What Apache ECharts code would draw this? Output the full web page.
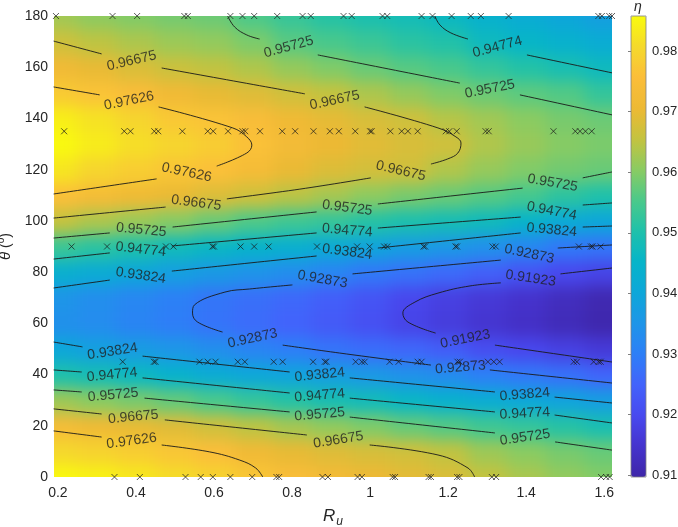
<!DOCTYPE html>
<html>
<head>
<meta charset="utf-8">
<script src="https://cdn.jsdelivr.net/npm/echarts@6/dist/echarts.min.js"></script>
<style>
  body { margin: 0; background: #fff; }
  #wrap { position: relative; width: 678px; height: 527px; }
  #clip { position: absolute; left: 54px; top: 16px; width: 558px; height: 461px; overflow: hidden; }
  #bg { position: absolute; left: -94px; top: -56px; width: 758px; height: 607px; filter: blur(8px); }
  #fg { position: absolute; left: 0; top: 0; width: 678px; height: 527px; }
</style>
</head>
<body>
<div id="wrap">
  <div id="clip"><div id="bg"></div></div>
  <div id="fg"></div>
</div>
<script>
// R_u 列 / θ 行
var rVals = [0.2, 0.3, 0.4, 0.5, 0.6, 0.7, 0.8, 0.9, 1.0, 1.1, 1.2, 1.3, 1.4, 1.5, 1.6];
var thetaVals = [0, 10, 20, 30, 40, 50, 60, 70, 80, 90, 100, 110, 120, 130, 140, 150, 160, 170, 180];
// η，每行一个 θ
var etaRows = [
  [0.9855, 0.9845, 0.9830, 0.9812, 0.9795, 0.9772, 0.9748, 0.9728, 0.9710, 0.9695, 0.9682, 0.9655, 0.9632, 0.9612, 0.9598],
  [0.9805, 0.9795, 0.9785, 0.9772, 0.9755, 0.9719, 0.9700, 0.9688, 0.9678, 0.9670, 0.9652, 0.9622, 0.9605, 0.9590, 0.9577],
  [0.9736, 0.9717, 0.9701, 0.9689, 0.9670, 0.9649, 0.9628, 0.9611, 0.9595, 0.9575, 0.9560, 0.9540, 0.9527, 0.9510, 0.9490],
  [0.9622, 0.9605, 0.9591, 0.9574, 0.9551, 0.9527, 0.9509, 0.9489, 0.9478, 0.9459, 0.9440, 0.9424, 0.9406, 0.9392, 0.9375],
  [0.9500, 0.9485, 0.9466, 0.9443, 0.9420, 0.9404, 0.9393, 0.9378, 0.9361, 0.9345, 0.9329, 0.9305, 0.9289, 0.9275, 0.9253],
  [0.9403, 0.9382, 0.9370, 0.9355, 0.9337, 0.9315, 0.9300, 0.9280, 0.9268, 0.9256, 0.9237, 0.9208, 0.9195, 0.9180, 0.9165],
  [0.9340, 0.9332, 0.9312, 0.9298, 0.9280, 0.9265, 0.9250, 0.9232, 0.9212, 0.9188, 0.9170, 0.9153, 0.9138, 0.9120, 0.9105],
  [0.9350, 0.9335, 0.9318, 0.9303, 0.9282, 0.9272, 0.9258, 0.9240, 0.9220, 0.9195, 0.9178, 0.9162, 0.9146, 0.9128, 0.9110],
  [0.9433, 0.9417, 0.9400, 0.9378, 0.9363, 0.9348, 0.9334, 0.9313, 0.9290, 0.9276, 0.9262, 0.9243, 0.9221, 0.9197, 0.9187],
  [0.9534, 0.9515, 0.9499, 0.9475, 0.9460, 0.9445, 0.9432, 0.9414, 0.9394, 0.9372, 0.9358, 0.9342, 0.9319, 0.9290, 0.9282],
  [0.9655, 0.9635, 0.9618, 0.9601, 0.9578, 0.9555, 0.9538, 0.9527, 0.9509, 0.9496, 0.9485, 0.9473, 0.9448, 0.9414, 0.9403],
  [0.9758, 0.9734, 0.9718, 0.9702, 0.9684, 0.9667, 0.9646, 0.9628, 0.9607, 0.9590, 0.9578, 0.9562, 0.9545, 0.9518, 0.9501],
  [0.9825, 0.9800, 0.9785, 0.9770, 0.9760, 0.9735, 0.9702, 0.9685, 0.9673, 0.9668, 0.9638, 0.9615, 0.9597, 0.9585, 0.9578],
  [0.9855, 0.9835, 0.9815, 0.9800, 0.9785, 0.9762, 0.9728, 0.9707, 0.9692, 0.9680, 0.9670, 0.9638, 0.9617, 0.9602, 0.9593],
  [0.9840, 0.9820, 0.9800, 0.9775, 0.9765, 0.9745, 0.9718, 0.9697, 0.9680, 0.9668, 0.9644, 0.9625, 0.9605, 0.9590, 0.9580],
  [0.9778, 0.9765, 0.9750, 0.9720, 0.9700, 0.9688, 0.9670, 0.9655, 0.9635, 0.9614, 0.9595, 0.9580, 0.9567, 0.9558, 0.9527],
  [0.9720, 0.9701, 0.9682, 0.9663, 0.9652, 0.9637, 0.9614, 0.9596, 0.9578, 0.9562, 0.9550, 0.9527, 0.9508, 0.9490, 0.9470],
  [0.9667, 0.9650, 0.9635, 0.9620, 0.9612, 0.9593, 0.9565, 0.9550, 0.9535, 0.9515, 0.9505, 0.9470, 0.9455, 0.9440, 0.9420],
  [0.9625, 0.9608, 0.9598, 0.9588, 0.9580, 0.9555, 0.9530, 0.9510, 0.9495, 0.9482, 0.9465, 0.9440, 0.9420, 0.9400, 0.9380]
];

var etaMin = 0.90973, etaMax = 0.98577;
var xTicks = [0.2, 0.4, 0.6, 0.8, 1, 1.2, 1.4, 1.6];
var cbTicks = [0.91, 0.92, 0.93, 0.94, 0.95, 0.96, 0.97, 0.98];

// 等值线 [R, θ]，相邻两段之间是标注的位置
var c7a = [[0.189, 152.3], [0.307, 149.2]];
var c7b = [[0.458, 144.5], [0.648, 136.3], [0.684, 132.8], [0.697, 129.6], [0.684, 126.5], [0.607, 121.4]];
var c7c = [[0.453, 116.4], [0.189, 110.5]];
var c7d = [[0.189, 18.0], [0.312, 15.6]];
var c7e = [[0.466, 12.5], [0.589, 9.8], [0.666, 6.6], [0.707, 3.5], [0.725, 0]];

var c6a = [[0.189, 170.2], [0.312, 165.2]];
var c6b = [[0.466, 159.7], [0.833, 149.6]];
var c6c = [[0.986, 144.5], [1.174, 136.3], [1.220, 132.8], [1.233, 130.4], [1.225, 126.5], [1.199, 124.2], [1.156, 122.2]];
var c6d = [[1.002, 116.8], [0.820, 112.4], [0.633, 108.6]];
var c6e = [[0.476, 105.4], [0.189, 101.1]];
var c6f = [[0.189, 26.6], [0.312, 24.6]];
var c6g = [[0.474, 22.3], [0.838, 16.4]];
var c6h = [[0.999, 12.5], [1.174, 8.6], [1.251, 3.5], [1.268, 0]];

var c5a = [[0.635, 180], [0.653, 175.7], [0.684, 172.6], [0.717, 171.0]];
var c5b = [[0.866, 164.8], [1.230, 153.8]];
var c5c = [[1.384, 149.2], [1.620, 141.4]];
var c5d = [[0.189, 93.3], [0.333, 95.3]];
var c5e = [[0.494, 97.6], [0.863, 103.5]];
var c5f = [[1.020, 106.6], [1.391, 112.8]];
var c5g = [[1.545, 116.8], [1.620, 119.1]];
var c5h = [[0.189, 34.0], [0.261, 33.2]];
var c5i = [[0.422, 30.8], [0.794, 25.4]];
var c5j = [[0.948, 23.4], [1.320, 17.2]];
var c5k = [[1.474, 13.7], [1.620, 10.5]];

var c4a = [[1.166, 180], [1.179, 176.5], [1.207, 173.4], [1.251, 171.0]];
var c4b = [[1.402, 164.8], [1.620, 157.8]];
var c4c = [[0.189, 85.1], [0.333, 87.5]];
var c4d = [[0.492, 90.2], [0.863, 95.3]];
var c4e = [[1.020, 97.2], [1.386, 101.5]];
var c4f = [[1.545, 106.2], [1.620, 107.0]];
var c4g = [[0.189, 41.8], [0.261, 41.0]];
var c4h = [[0.417, 38.7], [0.794, 32.8]];
var c4i = [[0.948, 30.8], [1.320, 25.4]];
var c4j = [[1.473, 24.2], [1.620, 21.1]];

var c3a = [[0.189, 73.8], [0.333, 76.9]];
var c3b = [[0.492, 80.4], [0.863, 86.3]];
var c3c = [[1.020, 89.4], [1.386, 95.3]];
var c3d = [[1.545, 97.6], [1.620, 98.0]];
var c3e = [[0.189, 52.7], [0.263, 50.8]];
var c3f = [[0.417, 47.2], [0.794, 41.0]];
var c3g = [[0.948, 38.7], [1.320, 33.2]];
var c3h = [[1.473, 31.2], [1.620, 28.9]];

var c2a = [[1.620, 90.6], [1.481, 89.4]];
var c2b = [[1.335, 84.7], [0.955, 79.3]];
var c2c = [[0.801, 75.0], [0.691, 73.4], [0.628, 72.2], [0.550, 67.2], [0.545, 64.0], [0.558, 60.5], [0.622, 56.6]];
var c2d = [[0.776, 51.5], [0.922, 48.4], [1.156, 43.7]];
var c2e = [[1.307, 41.8], [1.620, 36.7]];

var c1a = [[1.620, 81.6], [1.488, 79.3]];
var c1b = [[1.335, 75.8], [1.256, 74.6], [1.174, 71.8], [1.115, 68.3], [1.084, 64.0], [1.097, 60.5], [1.168, 56.2]];
var c1c = [[1.320, 51.5], [1.620, 44.9]];

var contourPieces = [
  [0.97626, [c7a, c7b, c7c]],
  [0.97626, [c7d, c7e]],
  [0.96675, [c6a, c6b, c6c, c6d, c6e]],
  [0.96675, [c6f, c6g, c6h]],
  [0.95725, [c5a, c5b, c5c]],
  [0.95725, [c5d, c5e, c5f, c5g]],
  [0.95725, [c5h, c5i, c5j, c5k]],
  [0.94774, [c4a, c4b]],
  [0.94774, [c4c, c4d, c4e, c4f]],
  [0.94774, [c4g, c4h, c4i, c4j]],
  [0.93824, [c3a, c3b, c3c, c3d]],
  [0.93824, [c3e, c3f, c3g, c3h]],
  [0.92873, [c2a, c2b, c2c, c2d, c2e]],
  [0.91923, [c1a, c1b, c1c]]
];

// 样本点（×），按 θ 分行，存 R
var mark0 = [0.345, 0.410, 0.527, 0.566, 0.597, 0.642, 0.698, 0.760, 0.767, 0.878, 0.892, 0.968, 0.979, 1.058, 1.064, 1.150, 1.156, 1.223, 1.229, 1.312, 1.323, 1.592, 1.605, 1.614];
var mark45 = [0.366, 0.446, 0.450, 0.563, 0.584, 0.604, 0.661, 0.679, 0.753, 0.776, 0.854, 0.884, 0.888, 0.963, 0.979, 0.986, 1.050, 1.073, 1.122, 1.132, 1.224, 1.230, 1.302, 1.317, 1.332, 1.522, 1.530, 1.573, 1.586, 1.591];
var mark90 = [0.235, 0.326, 0.477, 0.496, 0.596, 0.600, 0.668, 0.703, 0.740, 0.864, 0.967, 0.999, 1.036, 1.044, 1.137, 1.141, 1.219, 1.223, 1.314, 1.322, 1.535, 1.566, 1.570, 1.591];
var mark135 = [0.216, 0.370, 0.386, 0.447, 0.457, 0.519, 0.584, 0.598, 0.636, 0.673, 0.680, 0.718, 0.775, 0.808, 0.855, 0.897, 0.920, 0.962, 1.000, 1.004, 1.052, 1.081, 1.097, 1.122, 1.194, 1.203, 1.222, 1.296, 1.304, 1.470, 1.526, 1.538, 1.552, 1.568];
var mark180 = [0.195, 0.340, 0.403, 0.524, 0.533, 0.642, 0.673, 0.703, 0.762, 0.827, 0.848, 0.932, 0.953, 1.032, 1.044, 1.132, 1.160, 1.209, 1.258, 1.284, 1.355, 1.585, 1.594, 1.613, 1.620];

var xMin = 0.19, xMax = 1.62;
var font = "'Liberation Sans', Arial, Helvetica, sans-serif";
var parula = ['#3E26A8', '#4533CD', '#4849EF', '#4263FB', '#2D7FF7', '#1E95E8', '#0DA7D9', '#06B4C9',
  '#1FC1AA', '#4BC98A', '#8ACB62', '#C4C33F', '#EDB934', '#FBBE3A', '#F5D92C', '#F9FB0E'];

// ---------- 底图（色块，模糊） ----------
var cells = [];
for (var i = 0; i < thetaVals.length; i++) {
  for (var j = 0; j < rVals.length; j++) {
    cells.push([rVals[j], thetaVals[i], etaRows[i][j]]);
  }
}
var dR = rVals[1] - rVals[0], dT = thetaVals[1] - thetaVals[0];

function renderCell(params, api) {
  var r = api.value(0), t = api.value(1);
  var x0 = r - dR / 2, x1 = r + dR / 2, t0 = t - dT / 2, t1 = t + dT / 2;
  // 边缘色块向外延伸，模糊后边界不发白
  if (r === rVals[0]) x0 -= 0.15;
  if (r === rVals[rVals.length - 1]) x1 += 0.15;
  if (t === thetaVals[0]) t0 -= 20;
  if (t === thetaVals[thetaVals.length - 1]) t1 += 20;
  var a = api.coord([x0, t1]), b = api.coord([x1, t0]);
  return {
    type: 'rect',
    shape: { x: a[0], y: a[1], width: b[0] - a[0] + 1, height: b[1] - a[1] + 1 },
    style: { fill: api.visual('color') }
  };
}

var bgChart = echarts.init(document.getElementById('bg'));
bgChart.setOption({
  animation: false,
  grid: { left: 94, top: 56, width: 558, height: 461, outerBoundsMode: 'none', containLabel: false },
  xAxis: { type: 'value', min: xMin, max: xMax, show: false },
  yAxis: { type: 'value', min: 0, max: 180, show: false },
  visualMap: {
    show: false, type: 'continuous', dimension: 2, seriesIndex: 0,
    min: etaMin, max: etaMax, inRange: { color: parula }
  },
  series: [{
    type: 'custom', data: cells, renderItem: renderCell, clip: false,
    encode: { x: 0, y: 1 }, silent: true
  }]
});

// ---------- 前景（坐标轴、等值线、样本点、色条） ----------
var series = [];
var labelItems = [];
contourPieces.forEach(function (piece) {
  var segs = piece[1];
  segs.forEach(function (seg, k) {
    series.push({
      type: 'line', data: seg, showSymbol: false, symbol: 'none', smooth: 0.4,
      lineStyle: { color: '#1a1a1a', width: 0.9 }, silent: true, z: 3
    });
    if (k < segs.length - 1) {
      labelItems.push({ level: piece[0], p: seg[seg.length - 1], q: segs[k + 1][0] });
    }
  });
});

var cross = 'path://M0,0L10,10M10,0L0,10';
var markPts = [];
[[0, mark0], [45, mark45], [90, mark90], [135, mark135], [180, mark180]].forEach(function (row) {
  row[1].forEach(function (r) { markPts.push([r, row[0]]); });
});
series.push({
  type: 'scatter', data: markPts, symbol: cross, symbolSize: 6, clip: false,
  itemStyle: { color: 'transparent', borderColor: '#1a1a1a', borderWidth: 0.9 },
  silent: true, z: 4
});
series.push({
  id: 'labels', type: 'scatter', data: [], symbolSize: 1, silent: true, z: 5,
  itemStyle: { color: 'rgba(0,0,0,0)' },
  label: { show: true, position: 'inside', formatter: '{b}', fontSize: 14, color: '#1f1f1f', fontFamily: font }
});
// 色条用的空系列
series.push({ type: 'scatter', xAxisIndex: 1, yAxisIndex: 1, data: [] });
var cbSeriesIndex = series.length - 1;

var fgChart = echarts.init(document.getElementById('fg'));
fgChart.setOption({
  animation: false,
  textStyle: { fontFamily: font },
  grid: [
    { left: 54, top: 16, width: 558, height: 461, outerBoundsMode: 'none', containLabel: false },
    { left: 631, top: 16, width: 15, height: 461, outerBoundsMode: 'none', containLabel: false,
      show: true, borderColor: '#808080', borderWidth: 0.8, backgroundColor: 'transparent', z: 10 }
  ],
  xAxis: [{
    type: 'value', min: xMin, max: xMax,
    axisLine: { show: false }, axisTick: { show: false }, splitLine: { show: false },
    axisLabel: { customValues: xTicks, fontSize: 14, color: '#262626', margin: 9 },
    name: '{r|R}{u|u}', nameLocation: 'middle', nameGap: 28,
    nameTextStyle: {
      color: '#262626',
      rich: {
        r: { fontSize: 17, fontStyle: 'italic', color: '#262626', fontFamily: font },
        u: { fontSize: 12, fontStyle: 'italic', color: '#262626', fontFamily: font, padding: [11, 0, 0, 1] }
      }
    }
  }, {
    gridIndex: 1, type: 'value', min: 0, max: 1, show: false
  }],
  yAxis: [{
    type: 'value', min: 0, max: 180, interval: 20,
    axisLine: { show: false }, axisTick: { show: false }, splitLine: { show: false },
    axisLabel: { fontSize: 14, color: '#262626', margin: 6 },
    name: '{t|θ} ({s|o})', nameLocation: 'middle', nameRotate: 90, nameGap: 31,
    nameTextStyle: {
      color: '#262626', fontSize: 14,
      rich: {
        t: { fontSize: 15, fontStyle: 'italic', color: '#262626', fontFamily: font },
        s: { fontSize: 10, color: '#262626', fontFamily: font, padding: [0, 0, 9, 0] }
      }
    }
  }, {
    gridIndex: 1, type: 'value', min: etaMin, max: etaMax, position: 'right',
    axisLine: { show: false }, splitLine: { show: false },
    axisTick: { customValues: cbTicks, inside: true, length: 3, lineStyle: { color: '#808080' } },
    axisLabel: { customValues: cbTicks, fontSize: 13, color: '#262626', margin: 6 }
  }],
  visualMap: {
    type: 'continuous', seriesIndex: cbSeriesIndex, min: etaMin, max: etaMax,
    calculable: false, hoverLink: false, orient: 'vertical',
    left: 631, top: 16, itemWidth: 15, itemHeight: 461, padding: 0,
    inRange: { color: parula }
  },
  graphic: [{
    type: 'text', left: 634, top: 0,
    style: { text: 'η', font: 'italic 14px ' + font, fill: '#262626' }
  }],
  series: series
});

// 标注放在等值线断口中间，角度按断口方向
var labelData = labelItems.map(function (it) {
  var a = fgChart.convertToPixel({ gridIndex: 0 }, it.p);
  var b = fgChart.convertToPixel({ gridIndex: 0 }, it.q);
  var dx = b[0] - a[0], dy = b[1] - a[1];
  if (dx < 0) { dx = -dx; dy = -dy; }
  var ang = Math.atan2(dy, dx) * 180 / Math.PI;
  return {
    name: it.level.toFixed(5),
    value: [(it.p[0] + it.q[0]) / 2, (it.p[1] + it.q[1]) / 2],
    label: { rotate: ang }
  };
});
fgChart.setOption({ series: [{ id: 'labels', data: labelData }] });
</script>
</body>
</html>
